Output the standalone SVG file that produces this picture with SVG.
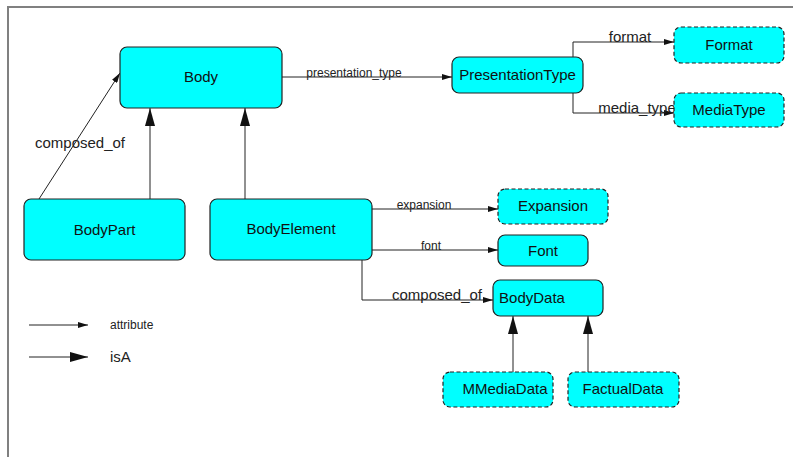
<svg xmlns="http://www.w3.org/2000/svg" width="793" height="457" viewBox="0 0 793 457">
<style>
.n{fill:#00ffff;stroke:#222;stroke-width:1.2}
.d{stroke-dasharray:4,2.5}
.t{font-family:"Liberation Sans",Arial,sans-serif;font-size:15px;fill:#111;text-anchor:middle}
.s{font-family:"Liberation Sans",Arial,sans-serif;font-size:12px;fill:#222}
.m{font-family:"Liberation Sans",Arial,sans-serif;font-size:15px;fill:#222}
.c{fill:none;stroke:#222;stroke-width:1}
</style>
<defs>
<marker id="att" markerWidth="10" markerHeight="6" refX="10" refY="3" orient="auto" markerUnits="userSpaceOnUse"><path d="M0,0 L10,3 L0,6 Z" fill="#111"/></marker>
<marker id="isa" markerWidth="18" markerHeight="10" refX="18" refY="5" orient="auto" markerUnits="userSpaceOnUse"><path d="M0,0 L18,5 L0,10 Z" fill="#111"/></marker>
</defs>
<rect width="793" height="457" fill="#fff"/>
<path d="M8,457 V7 H793" fill="none" stroke="#808080" stroke-width="2"/>
<g id="connectors">
<line class="c" x1="282" y1="77" x2="452" y2="77" marker-end="url(#att)"/>
<polyline class="c" points="583,75 573,75 573,42 674,42" marker-end="url(#att)"/>
<polyline class="c" points="573,93 573,113 674,113" marker-end="url(#att)"/>
<line class="c" x1="39" y1="199" x2="120" y2="73" marker-end="url(#att)"/>
<line class="c" x1="150" y1="199" x2="150" y2="108" marker-end="url(#isa)"/>
<line class="c" x1="245" y1="199" x2="245" y2="108" marker-end="url(#isa)"/>
<line class="c" x1="372" y1="209" x2="498" y2="209" marker-end="url(#att)"/>
<line class="c" x1="372" y1="250" x2="498" y2="250" marker-end="url(#att)"/>
<polyline class="c" points="362,260 362,300 493,300" marker-end="url(#att)"/>
<line class="c" x1="513" y1="372" x2="513" y2="316" marker-end="url(#isa)"/>
<line class="c" x1="588" y1="372" x2="588" y2="316" marker-end="url(#isa)"/>
<line class="c" x1="29" y1="325" x2="88" y2="325" marker-end="url(#att)"/>
<line class="c" x1="29" y1="357" x2="88" y2="357" marker-end="url(#isa)"/>
<text class="s" x="354" y="77" text-anchor="middle">presentation_type</text>
<text class="m" x="630" y="42" text-anchor="middle">format</text>
<text class="m" x="637" y="113" text-anchor="middle">media_type</text>
<text class="m" x="80" y="148" text-anchor="middle" font-size="15.5">composed_of</text>
<text class="s" x="424" y="209" text-anchor="middle">expansion</text>
<text class="s" x="431" y="250" text-anchor="middle">font</text>
<text class="m" x="437" y="300" text-anchor="middle" font-size="15.5">composed_of</text>
<text class="s" x="110" y="329">attribute</text>
<text class="m" x="110" y="362">isA</text>
</g>
<g id="Body"><rect class="n" x="120" y="47" width="162" height="61" rx="7"/><text class="t" x="201" y="82">Body</text></g>
<g id="PresentationType"><rect class="n" x="452" y="57" width="131" height="36" rx="7"/><text class="t" x="517.5" y="80">PresentationType</text></g>
<g id="Format"><rect class="n d" x="674" y="27" width="110" height="36" rx="7"/><text class="t" x="729" y="50">Format</text></g>
<g id="MediaType"><rect class="n d" x="674" y="93" width="110" height="34" rx="7"/><text class="t" x="729" y="115">MediaType</text></g>
<g id="BodyPart"><rect class="n" x="24" y="199" width="161" height="61" rx="7"/><text class="t" x="104.5" y="235">BodyPart</text></g>
<g id="BodyElement"><rect class="n" x="210" y="199" width="162" height="61" rx="7"/><text class="t" x="291" y="234">BodyElement</text></g>
<g id="Expansion"><rect class="n d" x="498" y="189" width="110" height="35" rx="7"/><text class="t" x="553" y="211">Expansion</text></g>
<g id="Font"><rect class="n" x="498" y="235" width="90" height="31" rx="7"/><text class="t" x="543" y="256">Font</text></g>
<g id="BodyData"><rect class="n" x="493" y="280" width="110" height="36" rx="7"/><text class="t" x="532" y="303">BodyData</text></g>
<g id="MMediaData"><rect class="n d" x="443" y="372" width="110" height="35" rx="7"/><text class="t" x="505" y="394">MMediaData</text></g>
<g id="FactualData"><rect class="n d" x="568" y="372" width="111" height="35" rx="7"/><text class="t" x="623" y="394">FactualData</text></g>
</svg>
